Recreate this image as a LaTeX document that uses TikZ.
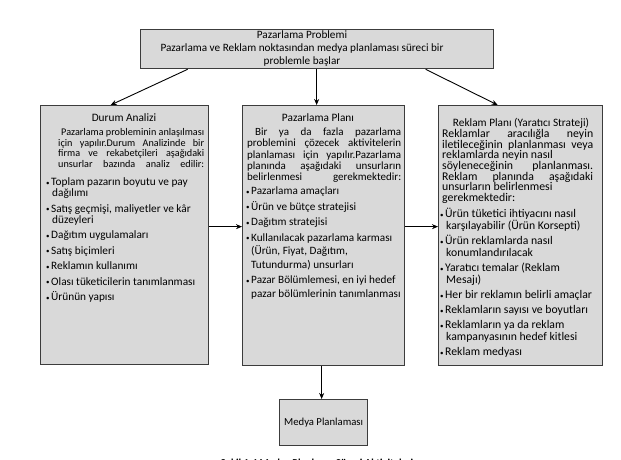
\documentclass[tikz,border=0pt]{standalone}
\usepackage{fontspec}
\setmainfont{Carlito}
\usetikzlibrary{arrows.meta}
\definecolor{boxfill}{HTML}{D9D9D9}
\definecolor{boxdraw}{HTML}{3C3C3C}
\newcommand\stl[2]{\makebox[#1][s]{#2}}
\newcommand\bul{\makebox[5pt][l]{\raisebox{0.5pt}{\scriptsize •}}}
\tikzset{
  panel/.style={draw=boxdraw, fill=boxfill, line width=1.3pt, inner sep=0pt, anchor=north west},
  conn/.style={draw=black, line width=0.9pt, -{Stealth[length=6pt,width=5pt]}},
  ttl/.style={inner sep=0pt, anchor=base, font=\fontsize{11.3}{12}\selectfont},
  para/.style={inner sep=0pt, anchor=base west, align=left},
}
\begin{document}
\begin{tikzpicture}[x=1pt,y=-1pt]
\useasboundingbox (0,0) rectangle (621,460);
% boxes
\node[panel, minimum width=353pt, minimum height=39pt] (T) at (140,29) {};
\node[panel, minimum width=168pt, minimum height=259pt] (L) at (40,105) {};
\node[panel, minimum width=162pt, minimum height=260pt] (M) at (242,105) {};
\node[panel, minimum width=164pt, minimum height=260pt] (R) at (438,105) {};
\node[panel, minimum width=88pt, minimum height=46pt] (P) at (279,399) {};
% top text (anchor = baseline of last line)
\node[inner sep=0pt, anchor=base, align=center, font=\fontsize{11.2}{12.5}\selectfont] (Tt) at (302,64)
 {Pazarlama Problemi\\Pazarlama ve Reklam noktasından medya planlaması süreci bir\\problemle başlar};
% left
\node[ttl] (Lh) at (124,121.5) {Durum Analizi};
\node[para, font=\fontsize{10.2}{10.7}\selectfont] (Lp) at (58,167.6)
 {\hspace*{3pt}\stl{143pt}{Pazarlama probleminin anlaşılması}\\
  \stl{146pt}{için yapılır.Durum Analizinde bir}\\
  \stl{146pt}{firma ve rekabetçileri aşağıdaki}\\
  \stl{146pt}{unsurlar bazında analiz edilir:}};
\node[para, font=\fontsize{11.3}{11}\selectfont] (Ll) at (46,300.5)
 {\bul Toplam pazarın boyutu ve pay\\ \hspace*{6pt}dağılımı\\[4.5pt]
  \bul Satış geçmişi, maliyetler ve kâr\\ \hspace*{6pt}düzeyleri\\[4.5pt]
  \bul Dağıtım uygulamaları\\[4.5pt]
  \bul Satış biçimleri\\[4.5pt]
  \bul Reklamın kullanımı\\[4.5pt]
  \bul Olası tüketicilerin tanımlanması\\[4.5pt]
  \bul Ürünün yapısı};
% middle
\node[ttl] (Mh) at (318,121.5) {Pazarlama Planı};
\node[para, font=\fontsize{11}{11.25}\selectfont] (Mp) at (247,180.5)
 {\hspace*{8pt}\stl{146pt}{Bir ya da fazla pazarlama}\\
  \stl{154pt}{problemini çözecek aktivitelerin}\\
  \stl{154pt}{planlaması için yapılır.Pazarlama}\\
  \stl{154pt}{planında aşağıdaki unsurların}\\
  \stl{154pt}{belirlenmesi gerekmektedir:}};
\node[para, font=\fontsize{11.2}{13.5}\selectfont] (Ml) at (246,297)
 {\bul Pazarlama amaçları\\[2pt]
  \bul Ürün ve bütçe stratejisi\\[2pt]
  \bul Dağıtım stratejisi\\[2pt]
  \bul Kullanılacak pazarlama karması\\ \hspace*{5pt}(Ürün, Fiyat, Dağıtım,\\ \hspace*{5pt}Tutundurma) unsurları\\[2pt]
  \bul Pazar Bölümlemesi, en iyi hedef\\ \hspace*{5pt}pazar bölümlerinin tanımlanması};
% right
\node[ttl] (Rh) at (521,126.5) {Reklam Planı (Yaratıcı Strateji)};
\node[para, font=\fontsize{11.8}{10.67}\selectfont] (Rp) at (442,201.5)
 {\stl{151pt}{Reklamlar aracılığla neyin}\\
  \stl{151pt}{iletileceğinin planlanması veya}\\
  reklamlarda neyin nasıl\\
  \stl{151pt}{söyleneceğinin planlanması.}\\
  \stl{151pt}{Reklam planında aşağıdaki}\\
  unsurların belirlenmesi\\
  gerekmektedir:};
\node[para, font=\fontsize{11.7}{12}\selectfont] (Rl) at (440,355.5)
 {\bul Ürün tüketici ihtiyacını nasıl\\ \hspace*{6pt}karşılayabilir (Ürün Korsepti)\\[3pt]
  \bul Ürün reklamlarda nasıl\\ \hspace*{6pt}konumlandırılacak\\[3pt]
  \bul Yaratıcı temalar (Reklam\\ \hspace*{6pt}Mesajı)\\[3pt]
  \bul Her bir reklamın belirli amaçlar\\[3pt]
  \bul Reklamların sayısı ve boyutları\\[3pt]
  \bul Reklamların ya da reklam\\ \hspace*{6pt}kampanyasının hedef kitlesi\\[3pt]
  \bul Reklam medyası};
% bottom
\node[inner sep=0pt, font=\fontsize{10.7}{12}\selectfont] (Pt) at (P.center) {Medya Planlaması};
\node[inner sep=0pt, anchor=base, font=\bfseries\fontsize{10.6}{12}\selectfont] (C) at (317,466) {Şekil 1.4 Medya Planlama Süreci Aktiviteleri};
% connectors
\draw[conn] ([xshift=-129.5pt]T.south) -- ([xshift=-14pt]L.north);
\draw[conn] ([xshift=-0.5pt]T.south) -- ([xshift=-7pt]M.north);
\draw[conn] ([xshift=108.5pt]T.south) -- ([xshift=-23pt]R.north);
\draw[conn] ([yshift=8.5pt]L.east) -- ([yshift=9pt]M.west);
\draw[conn] ([yshift=9pt]M.east) -- ([yshift=9pt]R.west);
\draw[conn] ([xshift=-2pt]M.south) -- ([xshift=-2pt]P.north);
\end{tikzpicture}
\end{document}
